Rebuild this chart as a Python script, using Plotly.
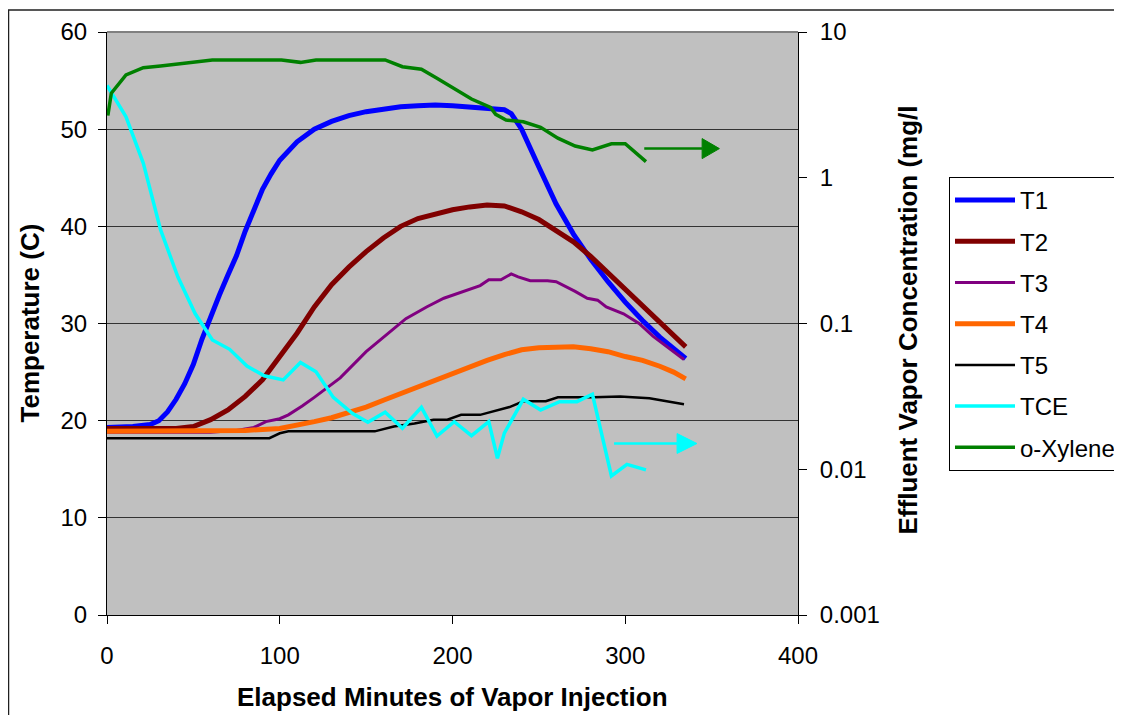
import plotly.graph_objects as go

# ---------------- data ----------------
t1_time = [0, 15, 25, 30, 35, 40, 45, 50, 55, 60, 65, 70, 75, 80, 85, 90, 95, 100, 110, 120,
           130, 140, 150, 160, 170, 180, 190, 200, 210, 220, 230, 234, 240, 250, 260, 270,
           280, 290, 300, 310, 320, 335]
t1_temp = [19.3, 19.4, 19.6, 20.0, 20.9, 22.2, 23.8, 25.8, 28.4, 30.8, 32.9, 35.0, 37.0, 39.5,
           41.8, 43.8, 45.4, 46.8, 48.7, 50.0, 50.8, 51.4, 51.8, 52.1, 52.3, 52.4, 52.5, 52.4,
           52.3, 52.2, 52.0, 51.6, 50.0, 46.1, 42.3, 39.2, 36.6, 34.3, 32.2, 30.3, 28.6, 26.4]

t2_time = [0, 40, 50, 60, 70, 80, 90, 100, 110, 120, 130, 140, 150, 160, 170, 180, 190, 200,
           210, 220, 230, 240, 250, 260, 270, 280, 290, 300, 310, 320, 335]
t2_temp = [19.2, 19.2, 19.4, 20.1, 21.1, 22.5, 24.2, 26.6, 29.0, 31.7, 34.0, 35.8, 37.4, 38.8,
           40.0, 40.8, 41.3, 41.7, 42.0, 42.2, 42.1, 41.5, 40.7, 39.6, 38.4, 36.9, 35.2, 33.4,
           31.7, 30.0, 27.6]

t3_time = [0, 60, 75, 85, 92, 100, 105, 113, 120, 128, 135, 150, 160, 173, 185, 195, 216, 221,
           228, 234, 238, 245, 255, 260, 271, 278, 284, 289, 299, 308, 316, 324, 334]
t3_temp = [18.8, 18.8, 19.0, 19.3, 19.9, 20.2, 20.6, 21.5, 22.4, 23.5, 24.4, 27.1, 28.6, 30.5,
           31.7, 32.6, 33.9, 34.5, 34.5, 35.1, 34.8, 34.4, 34.4, 34.3, 33.3, 32.6, 32.4, 31.7,
           31.0, 30.0, 28.7, 27.6, 26.3]

t4_time = [0, 50, 80, 100, 110, 120, 130, 140, 150, 160, 170, 180, 190, 200, 210, 220, 230,
           240, 250, 260, 270, 280, 290, 300, 310, 320, 328, 335]
t4_temp = [18.9, 18.9, 19.0, 19.2, 19.5, 19.9, 20.3, 20.8, 21.4, 22.1, 22.8, 23.5, 24.2, 24.9,
           25.6, 26.2, 26.8, 27.3, 27.5, 27.6, 27.6, 27.4, 27.1, 26.6, 26.2, 25.6, 25.0, 24.3]

t5_time = [0, 94, 100, 105, 155, 160, 166, 178, 189, 197, 205, 216, 222, 228, 233, 241, 254,
           261, 272, 282, 297, 314, 334]
t5_temp = [18.2, 18.2, 18.7, 18.9, 18.9, 19.1, 19.4, 19.7, 20.1, 20.1, 20.6, 20.6, 20.9, 21.2,
           21.4, 22.0, 22.0, 22.4, 22.4, 22.4, 22.5, 22.3, 21.7]

tce_time = [0, 11, 21, 31, 41, 51, 61, 71, 81, 91, 102, 112, 121, 131, 142, 151, 161, 171, 182,
            191, 201, 211, 221, 226, 230, 241, 251, 262, 272, 281, 292, 301, 312]
tce_conc = [4.3, 2.62, 1.26, 0.44, 0.209, 0.117, 0.077, 0.0665, 0.051, 0.0438, 0.041, 0.054,
            0.0467, 0.0311, 0.0242, 0.021, 0.0246, 0.0191, 0.0266, 0.0169, 0.0212, 0.017,
            0.0212, 0.0119, 0.0177, 0.0302, 0.0255, 0.0291, 0.0291, 0.0327, 0.0090, 0.0108,
            0.0099]

xyl_time = [0.5, 2.5, 11, 21, 31, 61, 101, 112, 121, 161, 171, 182, 191, 201, 211, 222, 225,
            231, 241, 251, 261, 271, 281, 292, 300, 312]
xyl_conc = [2.67, 3.8, 5.07, 5.69, 5.85, 6.43, 6.43, 6.19, 6.43, 6.43, 5.78, 5.55, 4.81, 4.11,
            3.47, 3.04, 2.72, 2.49, 2.42, 2.22, 1.87, 1.65, 1.55, 1.71, 1.71, 1.29]

x_ticks = [0, 100, 200, 300, 400]
y_ticks = [0, 10, 20, 30, 40, 50, 60]
y2_ticks = [0.001, 0.01, 0.1, 1, 10]
y2_labels = ["0.001", "0.01", "0.1", "1", "10"]

series_names = ["T1", "T2", "T3", "T4", "T5", "TCE", "o-Xylene"]

# ---------------- styles ----------------
colors = ["#0000FF", "#800000", "#800080", "#FF6600", "#000000", "#00FFFF", "#008000"]
widths = [5, 5, 3, 5, 2.5, 3.5, 3.5]
axes = ["y", "y", "y", "y", "y", "y2", "y2"]
xs_all = [t1_time, t2_time, t3_time, t4_time, t5_time, tce_time, xyl_time]
ys_all = [t1_temp, t2_temp, t3_temp, t4_temp, t5_temp, tce_conc, xyl_conc]

FONT = "Arial, 'Liberation Sans', sans-serif"

# page body has an 8px margin: figure is drawn 8px right/down of the window corner
OFF = 8
W, H = 1122 - OFF, 715 - OFF
PL, PT, PW, PH = 107 - OFF, 32 - OFF, 691, 583   # plot area in figure pixels


def px_x(px):   # window pixel -> paper x
    return (px - OFF - PL) / PW


def px_y(py):   # window pixel -> paper y
    return (PT + PH - (py - OFF)) / PH


fig = go.Figure()
for i, name in enumerate(series_names):
    fig.add_trace(go.Scatter(
        x=xs_all[i], y=ys_all[i], name=name, mode="lines",
        line=dict(color=colors[i], width=widths[i]),
        yaxis=axes[i], legendgroup=f"g{i}", hoverinfo="skip"))


# arrows pointing to the right-hand axis
def arrow(x0, x1, xh, yc, half, color):
    return [
        dict(type="line", xref="x", yref="y", x0=x0, x1=x1, y0=yc, y1=yc,
             line=dict(color=color, width=2.5)),
        dict(type="path", xref="x", yref="y",
             path=f"M{x1},{yc + half} L{xh},{yc} L{x1},{yc - half} Z",
             fillcolor=color, line=dict(color=color, width=1)),
    ]


shapes = []
shapes += arrow(311, 344.5, 354.5, 48.0, 1.03, "#008000")
shapes += arrow(293.5, 330, 341.5, 17.65, 1.02, "#00FFFF")
# top border of plot area (grey)
shapes.append(dict(type="line", xref="paper", yref="paper", x0=0, x1=1, y0=1, y1=1,
                   line=dict(color="#808080", width=2)))
# outer chart border
shapes.append(dict(type="rect", xref="paper", yref="paper", x0=px_x(8.5), x1=1.8,
                   y0=-0.5, y1=px_y(10), line=dict(color="#202020", width=1.5),
                   fillcolor="rgba(0,0,0,0)"))

annotations = [
    dict(text="<b>Elapsed Minutes of Vapor Injection</b>", xref="paper", yref="paper",
         x=0.5, y=px_y(697), xanchor="center", yanchor="middle", showarrow=False,
         font=dict(size=26, family=FONT, color="black")),
    dict(text="<b>Temperature (C)</b>", xref="paper", yref="paper",
         x=px_x(29), y=0.5, xanchor="center", yanchor="middle", textangle=-90,
         showarrow=False, font=dict(size=26, family=FONT, color="black")),
    dict(text="<b>Effluent Vapor Concentration (mg/l</b>", xref="paper", yref="paper",
         x=px_x(907), y=px_y(320.5), xanchor="center", yanchor="middle",
         textangle=-90, showarrow=False, font=dict(size=26, family=FONT, color="black")),
]

fig.update_layout(
    width=W, height=H,
    margin=dict(l=PL, r=W - PL - PW, t=PT, b=H - PT - PH, autoexpand=False),
    paper_bgcolor="white", plot_bgcolor="#C0C0C0",
    font=dict(family=FONT, size=24, color="black"),
    showlegend=True,
    legend=dict(x=px_x(949), y=px_y(177), xanchor="left", yanchor="top",
                bgcolor="white", bordercolor="black", borderwidth=1,
                font=dict(size=24, family=FONT, color="black"),
                tracegroupgap=7, itemwidth=60),
    xaxis=dict(range=[0, 400], tickvals=x_ticks, ticks="outside", ticklen=8,
               tickcolor="black", showline=True, linecolor="black", linewidth=1,
               showgrid=False, zeroline=False, ticklabelstandoff=11,
               tickfont=dict(size=24)),
    yaxis=dict(range=[0, 60], tickvals=y_ticks, ticks="outside", ticklen=8,
               tickcolor="black", showline=True, linecolor="black", linewidth=1,
               showgrid=True, gridcolor="#333333", gridwidth=1, zeroline=False,
               ticklabelstandoff=6, tickfont=dict(size=24)),
    yaxis2=dict(type="log", range=[-3, 1], overlaying="y", side="right",
                tickvals=y2_ticks, ticktext=y2_labels, ticks="outside", ticklen=8,
                tickcolor="black", showline=True, linecolor="black", linewidth=1,
                showgrid=False, zeroline=False, ticklabelstandoff=8,
                tickfont=dict(size=24)),
    shapes=shapes,
    annotations=annotations,
)

fig.write_html("out.html")
